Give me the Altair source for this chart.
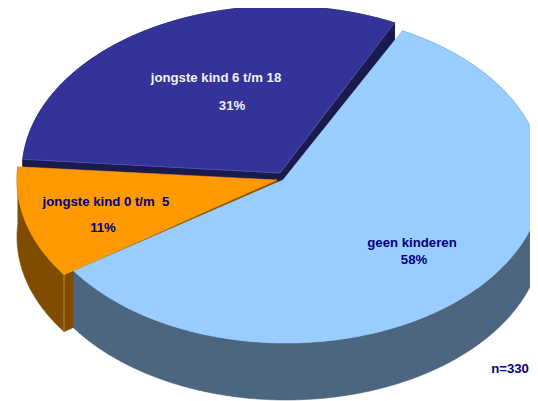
import numpy as np
import pandas as pd
import altair as alt

# Values
categories = ["geen kinderen", "jongste kind 0 t/m \u00a05", "jongste kind 6 t/m 18"]
shares = [58, 11, 31]
percent_labels = ["58%", "11%", "31%"]
note = "n=330"

top_colors = ["#99CCFF", "#FF9900", "#333399"]
side_colors = ["#4D6680", "#804D00", "#1A1A4D"]
text_colors = ["#000080", "#000080", "#F2F2F2"]

# Geometry of the tilted pie (in page pixels)
start_angles = [26.9, 235.0, 274.4]
apexes = [(283, 180), (277, 180), (280, 173)]
centers = [(286, 178), (277, 180), (281, 172)]
radii_x = [257, 260, 259]
radii_y = [165, 165, 166]
DEPTH = 57

name_pos = [(412, 243), (106, 202), (216, 78)]
pct_pos = [(414, 260), (103, 228), (232, 106)]
note_pos = (510, 369)

W, H = 522, 393
x_enc = alt.X("x:Q", scale=alt.Scale(domain=[8, 530]), axis=None)
y_enc = alt.Y("y:Q", scale=alt.Scale(domain=[401, 8]), axis=None)


def angles(i):
    return start_angles[i], start_angles[i] + shares[i] * 3.6


def arc(i, a0, a1):
    cx, cy = centers[i]
    t = np.radians(np.linspace(a0, a1, max(int(abs(a1 - a0) * 2), 2)))
    return np.c_[cx + radii_x[i] * np.sin(t), cy - radii_y[i] * np.cos(t)]


def poly(points, color, stroke=None, width=0.6):
    df = pd.DataFrame(points, columns=["x", "y"])
    df["i"] = range(len(df))
    return (
        alt.Chart(df)
        .mark_line(fill=color, stroke=stroke or color, strokeWidth=width, clip=True)
        .encode(x=x_enc, y=y_enc, order="i:Q")
    )


def line(points, color, width=0.7):
    df = pd.DataFrame(points, columns=["x", "y"])
    df["i"] = range(len(df))
    return (
        alt.Chart(df)
        .mark_line(stroke=color, strokeWidth=width, clip=True)
        .encode(x=x_enc, y=y_enc, order="i:Q")
    )


def top(i):
    pts = arc(i, *angles(i))
    return np.vstack([[apexes[i]], pts, [apexes[i]]])


def side(i):
    pts = arc(i, *angles(i))
    low = pts[::-1] + [0, DEPTH]
    return np.vstack([pts, low, pts[:1]])


def rim(i, angle):
    return arc(i, angle, angle + 0.001)[0]


def cut(i, angle):
    p = rim(i, angle)
    c = np.array(apexes[i], dtype=float)
    return np.vstack([c, p, p + [0, DEPTH], c + [0, DEPTH], c])


BLUE, ORANGE, DARK = 0, 1, 2
dark_a0, dark_a1 = angles(DARK)
orange_a0, _ = angles(ORANGE)
p_or = rim(ORANGE, orange_a0)
layers = [
    poly(side(DARK), side_colors[DARK]),
    poly(cut(DARK, dark_a0), side_colors[DARK]),
    poly(cut(DARK, dark_a1), side_colors[DARK]),
    poly(top(DARK), top_colors[DARK]),
    line(np.vstack([rim(DARK, dark_a0), apexes[DARK], rim(DARK, dark_a1)]), "#5C5CB0"),
    poly(side(ORANGE), side_colors[ORANGE]),
    poly(cut(ORANGE, orange_a0), side_colors[ORANGE]),
    line(np.vstack([p_or, p_or + [0, DEPTH]]), "#C09A60", 0.8),
    poly(top(ORANGE), top_colors[ORANGE]),
    poly(side(BLUE), side_colors[BLUE]),
    poly(top(BLUE), top_colors[BLUE]),
]

rows = []
for i in range(3):
    rows.append({"x": name_pos[i][0], "y": name_pos[i][1], "t": categories[i], "c": text_colors[i]})
    rows.append({"x": pct_pos[i][0], "y": pct_pos[i][1], "t": percent_labels[i], "c": text_colors[i]})
rows.append({"x": note_pos[0], "y": note_pos[1], "t": note, "c": "#000080"})
labels = (
    alt.Chart(pd.DataFrame(rows))
    .mark_text(font="Liberation Sans", fontWeight="bold", fontSize=13.2, align="center", baseline="middle")
    .encode(x=x_enc, y=y_enc, text="t:N", color=alt.Color("c:N", scale=None))
)

chart = (
    alt.layer(*layers, labels)
    .properties(width=W, height=H, padding=0, autosize=alt.AutoSizeParams(type="none"))
    .configure_view(stroke=None)
)
chart.save("out.html", embed_options={"renderer": "svg", "actions": False})
